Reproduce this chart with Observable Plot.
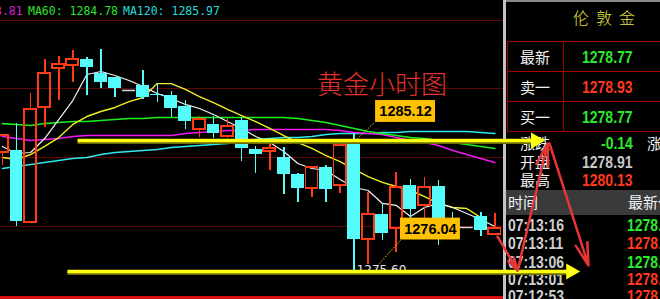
<!DOCTYPE html>
<html><head><meta charset="utf-8">
<script src="https://cdn.jsdelivr.net/npm/d3@7"></script>
<script src="https://cdn.jsdelivr.net/npm/@observablehq/plot@0.6"></script>
<style>
html,body{margin:0;padding:0;background:#000;overflow:hidden;}
#wrap{position:relative;width:660px;height:299px;background:#000;overflow:hidden;}
#chart{position:absolute;left:0;top:0;z-index:3;}
.a{position:absolute;white-space:pre;z-index:1;}
.hdr{top:3px;font-family:"DejaVu Sans Mono",monospace;font-size:11.5px;line-height:16px;}
.cn{font-family:"Noto Sans CJK SC",sans-serif;font-size:15px;line-height:20px;height:20px;color:#f2f2f2;}
.num{font-family:"Liberation Sans",Arial,sans-serif;font-weight:bold;font-size:14px;line-height:20px;height:20px;transform:scaleY(1.15);transform-origin:left center;}
</style></head>
<body><div id="wrap"></div>
<script>
// ---- header / panel texts ----
const headerTexts = [
  {text: "3.81", color: "#d622d6", left: -5},
  {text: "MA60: 1284.78", color: "#2ee22e", left: 28},
  {text: "MA120: 1285.97", color: "#22dcdc", left: 123}
];
const panelTitle = "伦敦金";
const quoteLabels = ["最新", "卖一", "买一", "涨跌", "开盘", "最高"];
const quoteValues = ["1278.77", "1278.93", "1278.77", "-0.14", "1278.91", "1280.13"];
const quoteColors = ["#2ee82e", "#ff3a1e", "#2ee82e", "#2ee82e", "#c8c8c8", "#ff3a1e"];
const tickHeader = ["时间", "最新价"];
const tickTimes = ["07:13:16", "07:13:11", "07:13:06", "07:13:01", "07:12:53"];
const tickPrices = ["1278.77", "1278.93", "1278.77", "1278.93", "1278.93"];
const tickColors = ["#2ee82e", "#ff3a1e", "#2ee82e", "#ff3a1e", "#ff3a1e"];

// ---- candle data (hourly gold) ----
const open  = [1283.80,1283.94,1278.94,1286.93,1289.64,1289.85,1290.26,1289.29,1289.01,1288.11,1288.46,1287.83,1287.76,1287.00,1285.40,1285.75,1284.91,1286.02,1284.01,1283.87,1283.45,1282.27,1281.30,1282.76,1281.51,1284.43,1277.75,1279.49,1278.52,1281.51,1280.12,1281.44,1279.21,1278.59,1279.35,1278.10];
const high  = [1284.98,1285.81,1287.90,1290.26,1290.47,1290.89,1290.40,1290.96,1289.01,1288.11,1289.50,1288.59,1288.04,1287.41,1286.30,1286.30,1286.16,1286.23,1284.22,1284.49,1284.15,1282.34,1282.76,1282.90,1284.49,1285.12,1281.02,1280.26,1282.41,1281.92,1282.06,1281.85,1279.63,1278.59,1279.63,1279.56];
const low   = [1282.90,1278.66,1278.94,1285.54,1287.41,1288.66,1287.76,1288.25,1287.62,1288.11,1287.48,1287.27,1286.23,1285.40,1284.84,1284.77,1284.77,1283.17,1282.34,1282.55,1280.88,1280.32,1280.67,1280.32,1280.95,1275.60,1276.04,1277.68,1276.85,1279.21,1279.07,1277.34,1278.45,1278.59,1277.96,1278.10];
const close = [1284.98,1279.01,1286.79,1289.29,1289.92,1290.26,1289.71,1288.66,1288.25,1288.11,1287.62,1287.76,1286.86,1285.95,1286.09,1285.12,1285.61,1284.08,1283.66,1284.08,1282.27,1281.30,1282.76,1281.23,1284.29,1277.75,1279.49,1278.17,1281.37,1279.84,1281.37,1278.52,1278.73,1278.59,1278.38,1278.52];

// moving averages
const maWhite   = [1284.22,1283.73,1283.80,1284.77,1286.09,1287.41,1289.22,1289.43,1289.15,1288.80,1288.39,1287.90,1287.55,1287.14,1286.86,1286.44,1285.95,1285.47,1284.91,1284.49,1283.87,1283.04,1282.69,1282.55,1281.92,1281.37,1281.16,1280.26,1280.12,1279.35,1279.98,1280.26,1279.98,1279.56,1279.14,1278.66];
const maYellow  = [1283.45,1283.31,1283.66,1284.22,1284.84,1285.75,1286.30,1286.65,1286.93,1287.34,1287.62,1288.59,1288.59,1288.18,1287.69,1287.27,1286.79,1286.37,1285.95,1285.47,1284.98,1284.49,1284.08,1283.59,1283.17,1282.62,1282.13,1281.72,1281.44,1281.16,1280.74,1280.26,1279.98,1279.91,1279.28];
const maGreen   = [1285.81,1285.75,1285.68,1285.81,1285.88,1285.95,1285.95,1286.02,1286.09,1286.16,1286.16,1286.23,1286.23,1286.23,1286.23,1286.23,1286.23,1286.23,1286.23,1286.23,1286.23,1286.16,1286.02,1285.88,1285.68,1285.47,1285.26,1285.12,1284.98,1284.84,1284.77,1284.63,1284.49,1284.36,1284.22,1284.08];
const maMagenta = [1284.91,1284.77,1284.63,1284.70,1284.77,1284.91,1284.98,1284.98,1284.98,1284.98,1284.98,1284.98,1284.98,1285.12,1285.19,1285.26,1285.33,1285.33,1285.40,1285.40,1285.40,1285.40,1285.40,1285.40,1285.33,1285.19,1285.12,1285.05,1284.84,1284.63,1284.49,1284.29,1283.94,1283.66,1283.38,1283.11];
const maCyan    = [1282.69,1282.83,1282.97,1283.11,1283.24,1283.38,1283.45,1283.66,1283.80,1283.87,1283.94,1284.01,1284.15,1284.22,1284.29,1284.36,1284.43,1284.56,1284.70,1284.77,1284.84,1284.84,1284.91,1285.05,1285.12,1285.12,1285.12,1285.19,1285.19,1285.26,1285.26,1285.26,1285.26,1285.26,1285.19,1285.12];

const gridPrices = [1292.97, 1288.25, 1283.45, 1278.66];
const chartLeft = -0.14, chartRight = 35.6;
const bottomPrice = 1273.72;

// annotations (candle index, price)
const boxLabels = [
  {text: "1285.12", x: 28.65, y: 1286.65},
  {text: "1276.04", x: 30.42, y: 1278.48}
];
const pointers = [
  {x1: 26.37, y1: 1285.82, x2: 25.09, y2: 1284.63},
  {x1: 28.29, y1: 1277.69, x2: 26.52, y2: 1275.81}
];
const lowLabel = [{text: "1275.60", x: 26.94, y: 1275.60}];
const titleText = [{text: "黄金小时图", x: 26.98, y: 1288.46}];
const yellowArrows = [
  {x1: 5.34, x2: 37.9, y: 1284.63},
  {x1: 4.62, x2: 40.4, y: 1275.53}
];
const redArrows = [
  {x1: 35.19, y1: 1277.96, x2: 36.61, y2: 1275.60},
  {x1: 36.61, y1: 1275.60, x2: 38.74, y2: 1284.43},
  {x1: 38.88, y1: 1284.43, x2: 41.65, y2: 1275.95}
];

// ---- build ----
const candles = open.map((o, i) => ({i, o, h: high[i], l: low[i], c: close[i]}));
const down = candles.filter(d => d.c < d.o);
const up = candles.filter(d => d.c > d.o);
const flat = candles.filter(d => d.c === d.o);
const colorOf = d => d.c < d.o ? "#55fcfc" : d.c > d.o ? "#ff3a14" : "#d8d8d8";
const series = (arr) => arr.map((v, i) => ({i, v}));

const CYAN = "#55fcfc", RED = "#ff3a14";

const chart = Plot.plot({
  width: 660, height: 299,
  margin: 0, marginTop: 0, marginRight: 0, marginBottom: 0, marginLeft: 0,
  x: {type: "linear", domain: [-0.137, 46.77], axis: null},
  y: {type: "linear", domain: [1273.585, 1294.363], axis: null},
  style: {background: "transparent", overflow: "visible"},
  marks: [
    Plot.ruleY(gridPrices, {y: d => d, x1: () => chartLeft, x2: () => chartRight, stroke: "#5c0808", strokeWidth: 1.2, shapeRendering: "crispEdges"}),
    Plot.ruleY([bottomPrice], {y: d => d, x1: () => chartLeft, x2: () => chartRight, stroke: "#ff1010", strokeWidth: 2.5}),
    Plot.line(series(maCyan), {x: "i", y: "v", stroke: "#2ee8ee", strokeWidth: 1.6}),
    Plot.line(series(maMagenta), {x: "i", y: "v", stroke: "#f018f0", strokeWidth: 1.6}),
    Plot.line(series(maGreen), {x: "i", y: "v", stroke: "#1cf01c", strokeWidth: 1.6}),
    Plot.line(series(maYellow), {x: "i", y: "v", stroke: "#f0f020", strokeWidth: 1.4}),
    Plot.line(series(maWhite), {x: "i", y: "v", stroke: "#f4f4f4", strokeWidth: 1.2}),
    // wicks (upper and lower, so hollow bodies stay empty)
    Plot.ruleX(candles, {x: "i", y1: d => Math.max(d.o, d.c), y2: "h", stroke: colorOf, strokeWidth: d => d.c > d.o ? 1.8 : 1.4, shapeRendering: "crispEdges"}),
    Plot.ruleX(candles, {x: "i", y1: "l", y2: d => Math.min(d.o, d.c), stroke: colorOf, strokeWidth: d => d.c > d.o ? 1.8 : 1.4, shapeRendering: "crispEdges"}),
    // bodies
    Plot.rect(down, {x1: d => d.i - 0.46, x2: d => d.i + 0.46, y1: "o", y2: "c", fill: CYAN, shapeRendering: "crispEdges"}),
    Plot.rect(up, {x1: d => d.i - 0.43, x2: d => d.i + 0.43, y1: "o", y2: "c", fill: "none", stroke: RED, strokeWidth: 1.8, shapeRendering: "crispEdges"}),
    Plot.ruleY(flat, {y: "o", x1: d => d.i - 0.46, x2: d => d.i + 0.46, stroke: "#d8d8d8", strokeWidth: 1.5}),
    // annotations
    Plot.text(titleText, {x: "x", y: "y", text: "text", fill: "#e2322c", fontSize: 26, fontWeight: 300, fontFamily: "Noto Sans CJK SC"}),
    Plot.link(pointers, {x1: "x1", y1: "y1", x2: "x2", y2: "y2", stroke: "#ffc000", strokeWidth: 1, strokeDasharray: "1.5,1.5"}),
    Plot.rect(boxLabels, {x1: d => d.x - 2.13, x2: d => d.x + 2.13, y1: d => d.y - 0.76, y2: d => d.y + 0.76, fill: "#ffc000"}),
    Plot.text(boxLabels, {x: "x", y: "y", text: "text", fill: "#000", fontSize: 14.5, fontWeight: "bold", fontFamily: "Liberation Sans"}),
    Plot.text(lowLabel, {x: "x", y: "y", text: "text", fill: "#e8e8e8", fontSize: 12, fontFamily: "DejaVu Sans"}),
    Plot.link(yellowArrows, {x1: "x1", x2: "x2", y1: "y", y2: "y", stroke: "#6a6a00", strokeWidth: 3, dy: 2}),
    Plot.link(yellowArrows, {x1: "x1", x2: "x2", y1: "y", y2: "y", stroke: "#ffff10", strokeWidth: 3.5}),
    Plot.dot(yellowArrows, {x: "x2", y: "y", symbol: "triangle", rotate: 90, r: 6, fill: "#ffff10", stroke: "none"}),
    Plot.arrow(redArrows, {x1: "x1", y1: "y1", x2: "x2", y2: "y2", stroke: "#e83535", strokeWidth: 2.5, headLength: 14, headAngle: 30})
  ]
});
chart.id = "chart";

const wrap = document.getElementById("wrap");
function add(cls, text, style) {
  const d = document.createElement("div");
  d.className = "a " + cls;
  d.textContent = text;
  Object.assign(d.style, style);
  wrap.appendChild(d);
  return d;
}
function box(style) {
  const d = document.createElement("div");
  d.className = "a";
  Object.assign(d.style, style);
  wrap.appendChild(d);
}
// header
headerTexts.forEach(h => add("hdr", h.text, {left: h.left + "px", color: h.color}));
// panel
box({left: "503px", top: "0px", width: "3px", height: "299px", background: "#c4c4c4"});
box({left: "506px", top: "0px", width: "154px", height: "2px", background: "#8a8a8a"});
add("cn", panelTitle, {left: "573px", top: "7px", fontSize: "16px", letterSpacing: "7px", color: "#e2e23a", fontWeight: "300"});
box({left: "507px", top: "41px", width: "160px", height: "89px", border: "1px solid #a80000"});
box({left: "507px", top: "71px", width: "160px", height: "1px", background: "#a80000"});
box({left: "507px", top: "101px", width: "160px", height: "1px", background: "#a80000"});
box({left: "563px", top: "41px", width: "1px", height: "90px", background: "#a80000"});
const qCenters = [57, 87, 117, 143, 162, 180];
quoteLabels.forEach((t, k) => {
  add("cn", t, {left: "520px", top: (qCenters[k] - 10) + "px"});
  add("num", quoteValues[k], {left: (k === 3 ? 601 : 582) + "px", top: (qCenters[k] - 10) + "px", color: quoteColors[k]});
});
add("cn", "涨", {left: "647px", top: (143 - 10) + "px"});
box({left: "506px", top: "190px", width: "154px", height: "25px", background: "#3a3a3a"});
add("cn", tickHeader[0], {left: "508px", top: "192px"});
add("cn", tickHeader[1], {left: "628px", top: "192px"});
const tCenters = [225, 243, 262, 279, 296];
tickTimes.forEach((t, k) => {
  add("num", t, {left: "508px", top: (tCenters[k] - 10) + "px", color: "#d0d0d0"});
  add("num", tickPrices[k], {left: "627px", top: (tCenters[k] - 10) + "px", color: tickColors[k]});
});
wrap.appendChild(chart);
</script>
</body></html>
